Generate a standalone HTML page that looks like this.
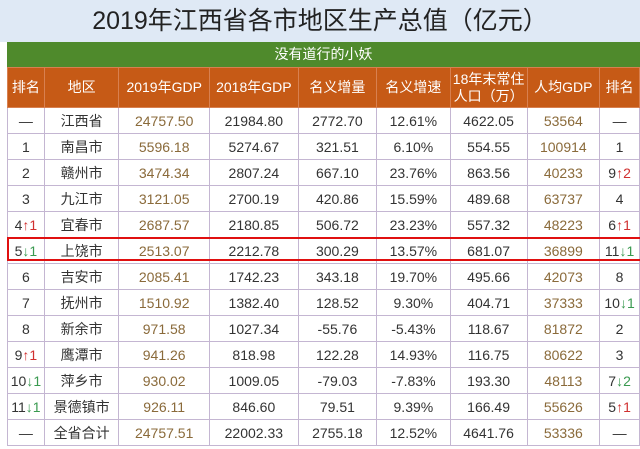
<!DOCTYPE html>
<html><head><meta charset="utf-8">
<style>
body{margin:0;width:640px;height:449px;overflow:hidden;background:#fff;font-family:"Liberation Sans","Noto Sans CJK SC",sans-serif;position:relative}
#title{position:absolute;left:0;top:0;width:640px;height:42px;background:#dfe9f5;text-align:center;font-size:25px;line-height:42px;color:#222}
#sub{position:absolute;left:7px;top:42px;width:633px;height:25px;background:#4f8a2c;color:#fff;text-align:center;font-size:14px;line-height:25px}
table{position:absolute;left:7px;top:67px;border-collapse:collapse;table-layout:fixed}
td{border:1px solid #c4b6d2;text-align:center;font-size:14px;color:#333;padding:0;height:25px;white-space:nowrap;overflow:hidden}
tr.h td{background:#c65a16;color:#fff;height:39px;border-color:#d88050;line-height:17px}
.b{color:#8a6a3a}
.u{color:#d03030}.d{color:#3a9a50}
#box{position:absolute;left:7px;top:237px;width:635px;height:24px;border:2px solid #e01010;box-sizing:border-box}
</style></head><body>
<div id="title">2019年江西省各市地区生产总值（亿元）</div>
<div id="sub">没有道行的小妖</div>
<table id="t">
<colgroup><col style="width:37px"><col style="width:75px"><col style="width:91px"><col style="width:89px"><col style="width:79px"><col style="width:74px"><col style="width:77px"><col style="width:73px"><col style="width:40px"></colgroup>
<tr class="h"><td>排名</td><td>地区</td><td>2019年GDP</td><td>2018年GDP</td><td>名义增量</td><td>名义增速</td><td>18年末常住<br>人口（万）</td><td>人均GDP</td><td>排名</td></tr>
</table>
<div id="box"></div>
<script>
const ranks=['—','1','2','3','4<span class="u">↑1</span>','5<span class="d">↓1</span>','6','7','8','9<span class="u">↑1</span>','10<span class="d">↓1</span>','11<span class="d">↓1</span>','—'];
const regions=['江西省','南昌市','赣州市','九江市','宜春市','上饶市','吉安市','抚州市','新余市','鹰潭市','萍乡市','景德镇市','全省合计'];
ranks.splice(0,0);
const rankCol=['—','1','2','3','4<span class="u">↑1</span>','5<span class="d">↓1</span>','6','7','8','9<span class="u">↑1</span>','10<span class="d">↓1</span>','11<span class="d">↓1</span>','—'];
const gdp2019=['24757.50','5596.18','3474.34','3121.05','2687.57','2513.07','2085.41','1510.92','971.58','941.26','930.02','926.11','24757.51'];
const gdp2018=['21984.80','5274.67','2807.24','2700.19','2180.85','2212.78','1742.23','1382.40','1027.34','818.98','1009.05','846.60','22002.33'];
const incr=['2772.70','321.51','667.10','420.86','506.72','300.29','343.18','128.52','-55.76','122.28','-79.03','79.51','2755.18'];
const rate=['12.61%','6.10%','23.76%','15.59%','23.23%','13.57%','19.70%','9.30%','-5.43%','14.93%','-7.83%','9.39%','12.52%'];
const pop=['4622.05','554.55','863.56','489.68','557.32','681.07','495.66','404.71','118.67','116.75','193.30','166.49','4641.76'];
const per=['53564','100914','40233','63737','48223','36899','42073','37333','81872','80622','48113','55626','53336'];
const rank2=['—','1','9<span class="u">↑2</span>','4','6<span class="u">↑1</span>','11<span class="d">↓1</span>','8','10<span class="d">↓1</span>','2','3','7<span class="d">↓2</span>','5<span class="u">↑1</span>','—'];
const rank1=['—','1','2','3','4<span class="u">↑1</span>','5<span class="d">↓1</span>','6','7','8','9<span class="u">↑1</span>','10<span class="d">↓1</span>','11<span class="d">↓1</span>','—'];
const t=document.getElementById('t');
for(let i=0;i<regions.length;i++){
  const tr=document.createElement('tr');
  
  
  const vals=[rank1[i],regions[i],gdp2019[i],gdp2018[i],incr[i],rate[i],pop[i],per[i],rank2[i]];
  vals.forEach((v,j)=>{
    const td=document.createElement('td');
    
    
    td.innerHTML=v;
    if(j==2||j==7)td.className='b';
    tr.appendChild(td);
  });
  t.appendChild(tr);
}
</script>
</body></html>
